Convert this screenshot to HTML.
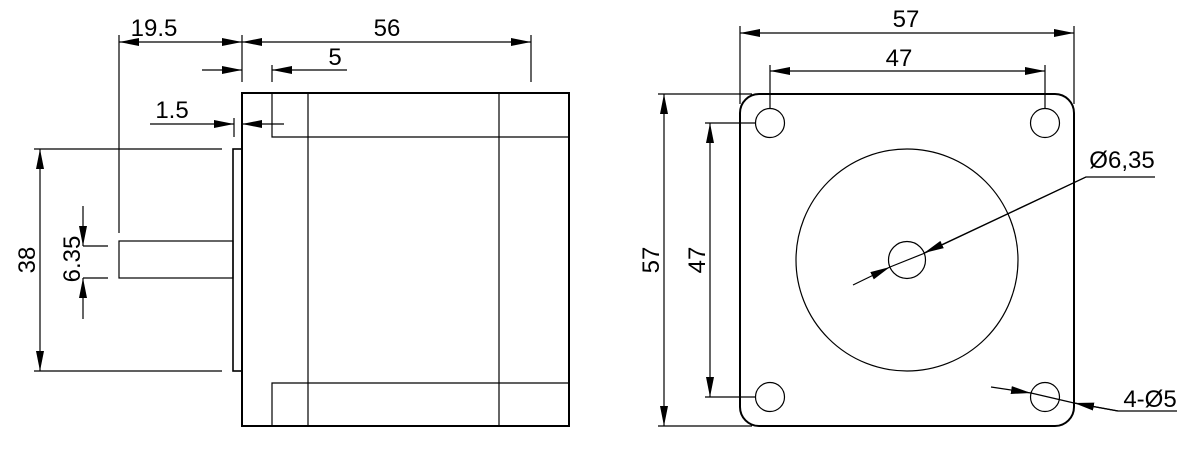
<!DOCTYPE html>
<html><head><meta charset="utf-8"><style>
html,body{margin:0;padding:0;background:#fff;}
svg{display:block;}
</style></head><body>
<svg width="1188" height="469" viewBox="0 0 1188 469" xmlns="http://www.w3.org/2000/svg">
<defs>
<marker id="a" markerUnits="userSpaceOnUse" markerWidth="20" markerHeight="9" refX="20" refY="4.5" orient="auto-start-reverse" viewBox="0 0 20 9">
<path d="M0,0.5 L20,4.5 L0,8.5 Z" fill="#000"/>
</marker>
</defs>
<g stroke="#000" stroke-width="1.2" fill="none">
<rect x="242" y="93" width="327" height="333" stroke-width="2"/>
<line x1="308" y1="93" x2="308" y2="426"/>
<line x1="499" y1="93" x2="499" y2="426"/>
<polyline points="272,93 272,137 569,137"/>
<polyline points="272,426 272,383 569,383"/>
<rect x="233" y="149" width="9" height="222" stroke-width="1.6"/>
<rect x="119" y="241" width="114" height="37"/>
<line x1="119" y1="35" x2="119" y2="233"/>
<line x1="242" y1="35" x2="242" y2="82"/>
<line x1="531" y1="35" x2="531" y2="82"/>
<line x1="119" y1="42" x2="242" y2="42" marker-start="url(#a)" marker-end="url(#a)"/>
<line x1="242" y1="42" x2="531" y2="42" marker-start="url(#a)" marker-end="url(#a)"/>
<line x1="272" y1="65" x2="272" y2="82"/>
<line x1="202" y1="70" x2="242" y2="70" marker-end="url(#a)"/>
<line x1="347" y1="70" x2="272" y2="70" marker-end="url(#a)"/>
<line x1="234" y1="118" x2="234" y2="137"/>
<line x1="150" y1="124" x2="234" y2="124" marker-end="url(#a)"/>
<line x1="284" y1="124" x2="242" y2="124" marker-end="url(#a)"/>
<line x1="34" y1="149" x2="222" y2="149"/>
<line x1="34" y1="371" x2="222" y2="371"/>
<line x1="40" y1="149" x2="40" y2="371" marker-start="url(#a)" marker-end="url(#a)"/>
<line x1="83" y1="246" x2="108" y2="246"/>
<line x1="83" y1="278" x2="108" y2="278"/>
<line x1="83" y1="206" x2="83" y2="246" marker-end="url(#a)"/>
<line x1="83" y1="319" x2="83" y2="278" marker-end="url(#a)"/>

<rect x="740" y="94" width="334" height="332" rx="19" ry="19" stroke-width="2"/>
<circle cx="770" cy="123" r="14.5"/>
<circle cx="1045" cy="123" r="14.5"/>
<circle cx="770" cy="397" r="14.5"/>
<circle cx="1045" cy="397" r="14.5"/>
<circle cx="907" cy="260" r="111"/>
<circle cx="907" cy="260" r="18.5"/>
<line x1="740" y1="26" x2="740" y2="104"/>
<line x1="1074" y1="26" x2="1074" y2="104"/>
<line x1="740" y1="33" x2="1074" y2="33" marker-start="url(#a)" marker-end="url(#a)"/>
<line x1="770" y1="65" x2="770" y2="108"/>
<line x1="1045" y1="65" x2="1045" y2="108"/>
<line x1="770" y1="71" x2="1045" y2="71" marker-start="url(#a)" marker-end="url(#a)"/>
<line x1="658" y1="94" x2="752" y2="94"/>
<line x1="658" y1="426" x2="752" y2="426"/>
<line x1="664" y1="94" x2="664" y2="426" marker-start="url(#a)" marker-end="url(#a)"/>
<line x1="705" y1="123" x2="756" y2="123"/>
<line x1="705" y1="397" x2="756" y2="397"/>
<line x1="710" y1="123" x2="710" y2="397" marker-start="url(#a)" marker-end="url(#a)"/>
<polyline points="1155,177 1086,177 925,253"/>
<line x1="1086" y1="177" x2="924" y2="253" marker-end="url(#a)"/>
<line x1="853" y1="285" x2="890" y2="267" marker-end="url(#a)"/>
<line x1="890" y1="267" x2="925" y2="253"/>
<line x1="991" y1="387" x2="1031" y2="393" marker-end="url(#a)"/>
<line x1="1031" y1="393" x2="1074" y2="403"/>
<polyline points="1177,411 1118,411 1074,403"/>
<line x1="1118" y1="411" x2="1074" y2="403" marker-end="url(#a)"/>
</g>
<g font-family="Liberation Sans, sans-serif" font-size="24" fill="#000">
<text x="154" y="36" text-anchor="middle">19.5</text>
<text x="387" y="36" text-anchor="middle">56</text>
<text x="335" y="65" text-anchor="middle">5</text>
<text x="172" y="118" text-anchor="middle">1.5</text>
<text transform="translate(35,260) rotate(-90)" text-anchor="middle">38</text>
<text transform="translate(80,259) rotate(-90)" text-anchor="middle">6.35</text>
<text x="906" y="27" text-anchor="middle">57</text>
<text x="899" y="66" text-anchor="middle">47</text>
<text transform="translate(659,260) rotate(-90)" text-anchor="middle">57</text>
<text transform="translate(705,260) rotate(-90)" text-anchor="middle">47</text>
<text x="1122" y="168" text-anchor="middle">Ø6,35</text>
<text x="1150" y="407" text-anchor="middle">4-Ø5</text>
</g>
</svg>
</body></html>
